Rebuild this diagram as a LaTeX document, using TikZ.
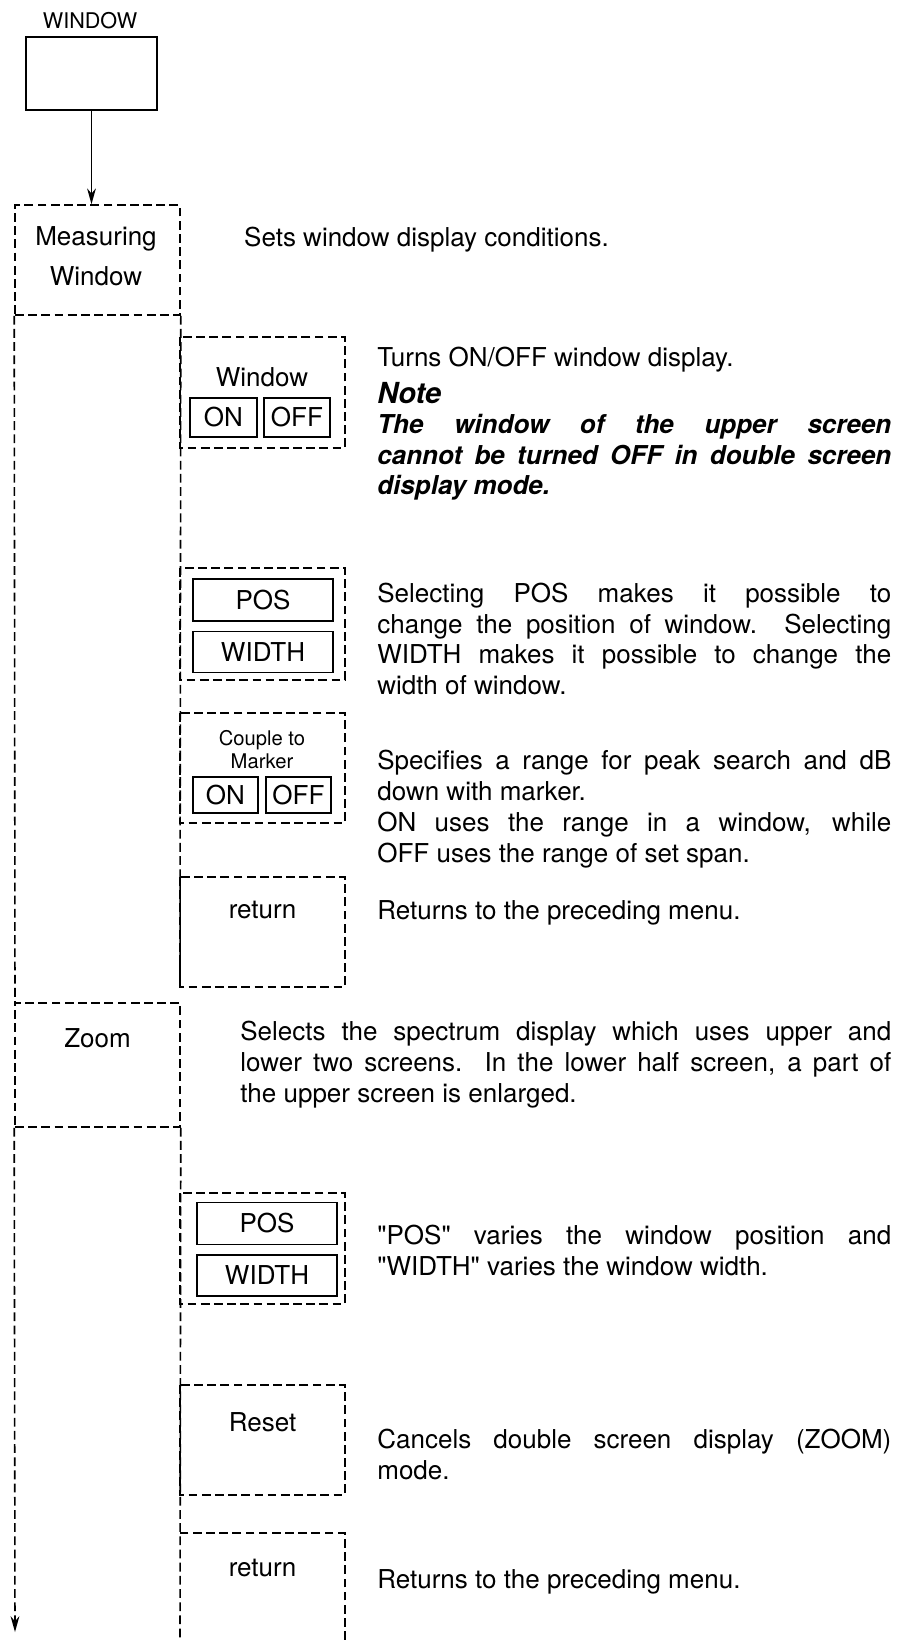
\documentclass[tikz,border=0pt]{standalone}
\usepackage{fontspec}
\setmainfont{TeX Gyre Heros}
\usetikzlibrary{arrows.meta}

\begin{document}
\begin{tikzpicture}[
    menu/.style={dash pattern=on 5pt off 2.5pt,line width=.9pt},
    key/.style={draw,line width=1.1pt,inner sep=0pt,font=\fontsize{14.8}{17}\selectfont},
    txt/.style={font=\fontsize{14.8}{17.5}\selectfont},
    desc/.style={txt,anchor=north west,inner sep=0pt,text width=10.28cm,align=justify}
  ]
    \useasboundingbox (0,0) rectangle (18.06,-32.8);

    \node[font=\fontsize{12.3}{14}\selectfont] (wintitle) at (1.8,-0.42) {WINDOW};
    \node[draw,line width=1.1pt,minimum width=2.62cm,minimum height=1.46cm] (winkey) at (1.83,-1.47) {};

    \node[draw,menu,minimum width=3.3cm,minimum height=2.2cm] (meas) at (1.95,-5.2) {};
    \node[txt,align=center] (measlbl) at (1.92,-5.12) {Measuring\\[5pt]Window};
    \draw[line width=.9pt,-{Stealth[length=9pt,width=5pt]}] (winkey.south) -- (winkey.south |- meas.north);
    \node[txt,anchor=west] (measdesc) at (4.76,-4.8) {Sets window display conditions.};

    % columna de la ventana
    \draw[menu] (meas.south west) -- (0.3,-20.06);
    \draw[menu] (meas.south east) -- (3.6,-19.74);

    \node[draw,menu,minimum width=3.3cm,minimum height=2.48cm] (zoom) at (1.95,-21.3) {};
    \node[txt] (zoomlbl) at (1.95,-20.76) {Zoom};
    \coordinate (colend) at (0.3,-32.64);
    \draw[menu,-{Stealth[length=9pt,width=5pt]}] (zoom.south west) -- (colend);
    \draw[menu] (zoom.south east) -- (3.6,-32.8);

    % submenus
    \foreach \t/\b in {6.74/8.96,11.36/13.6,14.26/16.46,17.54/19.74,23.86/26.08,27.7/29.9}{
      \draw[menu] (3.6,-\t) rectangle (6.9,-\b);
    }
    \draw[menu] (6.9,-32.8) -- (6.9,-30.66) -- (3.6,-30.66);

    \node[txt] (wlbl) at (5.24,-7.54) {Window};
    \node[key,minimum width=1.34cm,minimum height=.78cm] (won) at (4.47,-8.35) {ON};
    \node[key,minimum width=1.32cm,minimum height=.78cm] (woff) at (5.94,-8.35) {OFF};

    \foreach \n/\x/\y in {a/5.26/12.0,b/5.34/24.47}{
      \node[key,minimum width=2.8cm,minimum height=.84cm] (pos\n) at (\x,-\y) {POS};
      \node[key,minimum width=2.8cm,minimum height=.82cm] (width\n) at (\x,{-\y-1.04}) {WIDTH};
    }

    \node[align=center,font=\fontsize{11.5}{13}\selectfont] (couple) at (5.24,-14.99) {Couple to\\Marker};
    \node[key,minimum width=1.3cm,minimum height=.72cm] (con) at (4.51,-15.9) {ON};
    \node[key,minimum width=1.3cm,minimum height=.72cm] (coff) at (5.97,-15.9) {OFF};

    \node[txt] (reta) at (5.25,-18.2) {return};
    \node[txt] (reset) at (5.25,-28.44) {Reset};
    \node[txt] (retb) at (5.25,-31.36) {return};

    % textos
    \node[desc] (dwin) at (7.54,-6.94) {Turns ON/OFF window display.};
    \node[desc,font=\fontsize{16.5}{19}\selectfont\bfseries\itshape] (note) at (7.54,-7.64) {Note};
    \node[desc,font=\fontsize{14.8}{17.3}\selectfont\bfseries\itshape] (notetxt) at (7.54,-8.28)
      {The window of the upper screen\linebreak cannot be turned OFF in double screen\linebreak display mode.};
    \node[desc] (dpos) at (7.54,-11.65)
      {Selecting POS makes it possible to\linebreak change the position of window.\ \ Selecting\linebreak WIDTH makes it possible to change the\linebreak width of window.};
    \node[desc] (dcouple) at (7.54,-15.0)
      {Specifies a range for peak search and dB\linebreak down with marker.\\ON uses the range in a window, while\linebreak OFF uses the range of set span.};
    \node[desc] (dreta) at (7.54,-18.0) {Returns to the preceding menu.};
    \node[desc,text width=13.02cm] (dzoom) at (4.8,-20.42)
      {Selects the spectrum display which uses upper and\linebreak lower two screens.\ \ In the lower half screen, a part of\linebreak the upper screen is enlarged.};
    \node[desc] (dzpos) at (7.54,-24.5) {\textquotedbl POS\textquotedbl{} varies the window position and\linebreak \textquotedbl WIDTH\textquotedbl{} varies the window width.};
    \node[desc] (dreset) at (7.54,-28.58) {Cancels double screen display (ZOOM)\linebreak mode.};
    \node[desc] (dretb) at (7.54,-31.38) {Returns to the preceding menu.};
  \end{tikzpicture}
\end{document}
